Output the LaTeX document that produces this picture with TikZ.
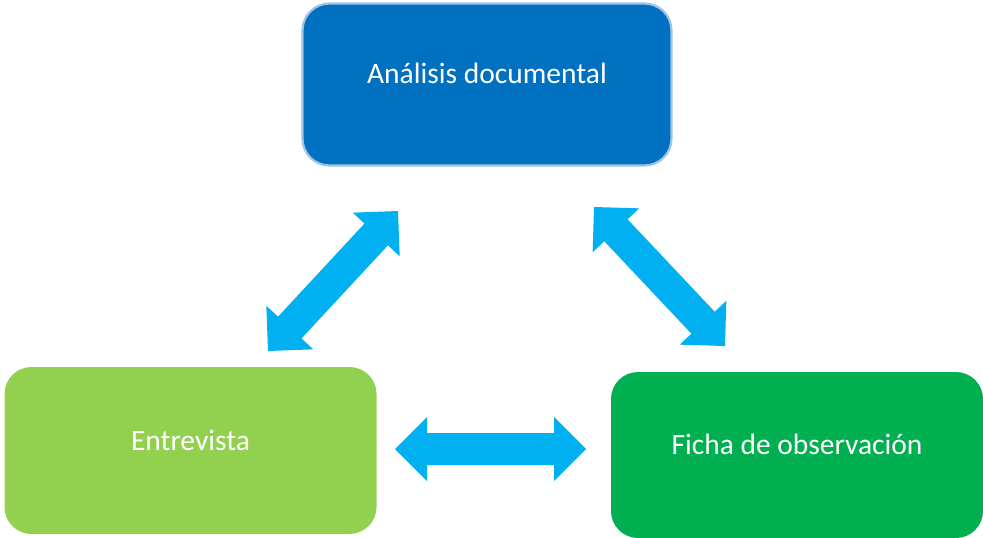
\documentclass[tikz,border=0pt]{standalone}
\usepackage{fontspec}
\setmainfont{Carlito}
\usetikzlibrary{calc}
\definecolor{topblue}{HTML}{0070C0}
\definecolor{topedge}{HTML}{9DC3E6}
\definecolor{litegreen}{HTML}{92D050}
\definecolor{darkgreen}{HTML}{00B050}
\definecolor{arrowblue}{HTML}{00B0F0}
\tikzset{
  box/.style={rectangle, rounded corners=27pt, inner sep=0pt},
  boxtext/.style={text=white, font=\fontsize{29.5}{35}\selectfont, yshift=11pt},
  arrowfill/.style={fill=arrowblue, draw=none}
}
% double block arrow between two named coordinates
\newcommand\blockdarrow[2]{%
  \fill[arrowfill]
    (#1)
    -- ($($(#1)!32pt!(#2)$)!32pt!90:(#2)$)
    -- ($($(#1)!32pt!(#2)$)!16pt!90:(#2)$)
    -- ($($(#2)!32pt!(#1)$)!16pt!-90:(#1)$)
    -- ($($(#2)!32pt!(#1)$)!32pt!-90:(#1)$)
    -- (#2)
    -- ($($(#2)!32pt!(#1)$)!32pt!90:(#1)$)
    -- ($($(#2)!32pt!(#1)$)!16pt!90:(#1)$)
    -- ($($(#1)!32pt!(#2)$)!16pt!-90:(#2)$)
    -- ($($(#1)!32pt!(#2)$)!32pt!-90:(#2)$)
    -- cycle;}
\begin{document}
\begin{tikzpicture}[x=1pt,y=-1pt]
  \useasboundingbox (0,0) rectangle (983,538);
  % boxes
  \node[box, fill=topblue, draw=topedge, line width=2.2pt,
        minimum width=369pt, minimum height=162pt,
        label={[boxtext]center:Análisis documental}] (doc) at (487,84.5) {};
  \node[box, fill=litegreen, minimum width=372pt, minimum height=167pt,
        label={[boxtext, yshift=-0.5pt]center:Entrevista}] (ent) at (190.5,450.5) {};
  \node[box, fill=darkgreen, minimum width=372pt, minimum height=166pt,
        label={[boxtext]center:Ficha de observación}] (fic) at (797,455) {};
  % arrow ends
  \coordinate (l1) at (268,351);
  \coordinate (l2) at (398,211);
  \coordinate (r1) at (594,207);
  \coordinate (r2) at (725,346);
  \coordinate (h1) at (395,449);
  \coordinate (h2) at (586,449);
  \blockdarrow{l1}{l2}
  \blockdarrow{r1}{r2}
  \blockdarrow{h1}{h2}
\end{tikzpicture}
\end{document}
